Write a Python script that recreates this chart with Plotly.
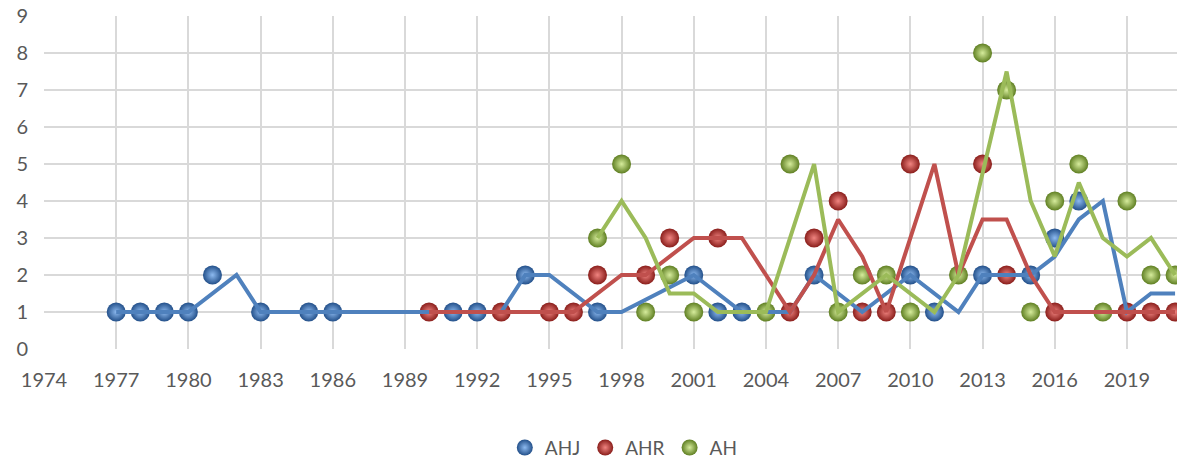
import plotly.graph_objects as go

# ---- data ----
ahj_years = [1977, 1978, 1979, 1980, 1981, 1983, 1985, 1986, 1991, 1992, 1994, 1997,
             2001, 2002, 2003, 2006, 2010, 2011, 2013, 2015, 2016, 2017]
ahj_vals = [1, 1, 1, 1, 2, 1, 1, 1, 1, 1, 2, 1, 2, 1, 1, 2, 2, 1, 2, 2, 3, 4]

ahr_years = [1990, 1993, 1995, 1996, 1997, 1999, 2000, 2002, 2005, 2006, 2007, 2008,
             2009, 2010, 2013, 2014, 2016, 2019, 2020, 2021]
ahr_vals = [1, 1, 1, 1, 2, 2, 3, 3, 1, 3, 4, 1, 1, 5, 5, 2, 1, 1, 1, 1]

ah_years = [1997, 1998, 1999, 2000, 2001, 2004, 2005, 2007, 2008, 2009, 2010, 2012,
            2013, 2014, 2015, 2016, 2017, 2018, 2019, 2020, 2021]
ah_vals = [3, 5, 1, 2, 1, 1, 5, 1, 2, 2, 1, 2, 8, 7, 1, 4, 5, 1, 4, 2, 2]

# trend lines (vertices)
ahj_line_years = [1977, 1980, 1982, 1983, 1993, 1994, 1995, 1997, 1998, 2001, 2003, 2005,
                  2006, 2008, 2010, 2012, 2013, 2015, 2016, 2017, 2018, 2019, 2020, 2021]
ahj_line_vals = [1, 1, 2, 1, 1, 2, 2, 1, 1, 2, 1, 1, 2, 1, 2, 1, 2, 2, 2.5, 3.5, 4, 1, 1.5, 1.5]

ahr_line_years = [1990, 1996, 1998, 1999, 2001, 2003, 2005, 2006, 2007, 2008, 2009, 2011,
                  2012, 2013, 2014, 2015, 2016, 2021]
ahr_line_vals = [1, 1, 2, 2, 3, 3, 1, 2, 3.5, 2.5, 1, 5, 2, 3.5, 3.5, 2, 1, 1]

ah_line_years = [1997, 1998, 1999, 2000, 2001, 2002, 2004, 2006, 2007, 2009, 2011, 2012,
                 2014, 2015, 2016, 2017, 2018, 2019, 2020, 2021]
ah_line_vals = [3, 4, 3, 1.5, 1.5, 1, 1, 5, 1, 2, 1, 2, 7.5, 4, 2.5, 4.5, 3, 2.5, 3, 2]

x_ticks = list(range(1974, 2020, 3))
y_ticks = list(range(0, 10))

# ---- styling ----
FONT = "Lato"
TXT = "#595959"
series = [
    ("AHJ", ahj_years, ahj_vals, ahj_line_years, ahj_line_vals, "#4F81BD", "#8dbaf0", "#23508a"),
    ("AHR", ahr_years, ahr_vals, ahr_line_years, ahr_line_vals, "#C0504D", "#f08480", "#8a1e1b"),
    ("AH", ah_years, ah_vals, ah_line_years, ah_line_vals, "#9BBB59", "#d6ec9c", "#5f7f22"),
]

fig = go.Figure()
for name, xs, ys, lx, ly, lc, c_in, c_out in series:
    fig.add_trace(go.Scatter(
        x=xs, y=ys, mode="markers", name=name,
        marker=dict(size=19, color=c_out, line=dict(width=0),
                    gradient=dict(type="radial", color=c_in)),
        cliponaxis=False,
    ))
for name, xs, ys, lx, ly, lc, c_in, c_out in series:
    fig.add_trace(go.Scatter(
        x=lx, y=ly, mode="lines", showlegend=False,
        line=dict(color=lc, width=4), hoverinfo="skip",
    ))

fig.update_layout(
    width=1177, height=462,
    margin=dict(l=44, r=0, t=16, b=113),
    paper_bgcolor="white", plot_bgcolor="white",
    font=dict(family=FONT, color=TXT, size=20),
    showlegend=True,
    legend=dict(orientation="h", xref="container", yref="container",
                x=0.530, xanchor="center", y=0.031, yanchor="middle",
                font=dict(family=FONT, size=19, color=TXT), itemsizing="trace",
                bgcolor="rgba(0,0,0,0)"),
    xaxis=dict(range=[1974, 2021.08], tickvals=x_ticks, showgrid=True, automargin=False,
               gridcolor="#d9d9d9", gridwidth=1.5, zeroline=False, showline=False,
               ticks="", ticklabelstandoff=17, tickfont=dict(size=20, color=TXT)),
    yaxis=dict(range=[0, 9], tickvals=y_ticks, showgrid=True, automargin=False,
               gridcolor="#d9d9d9", gridwidth=1.5, zeroline=False, showline=False,
               ticks="", ticklabelstandoff=15, tickfont=dict(size=20, color=TXT)),
)

# remove the browser's default 8px body margin so the figure sits at the page origin
fig.write_html("out.html", config={"displayModeBar": False},
               post_script="document.body.style.margin='0';")
